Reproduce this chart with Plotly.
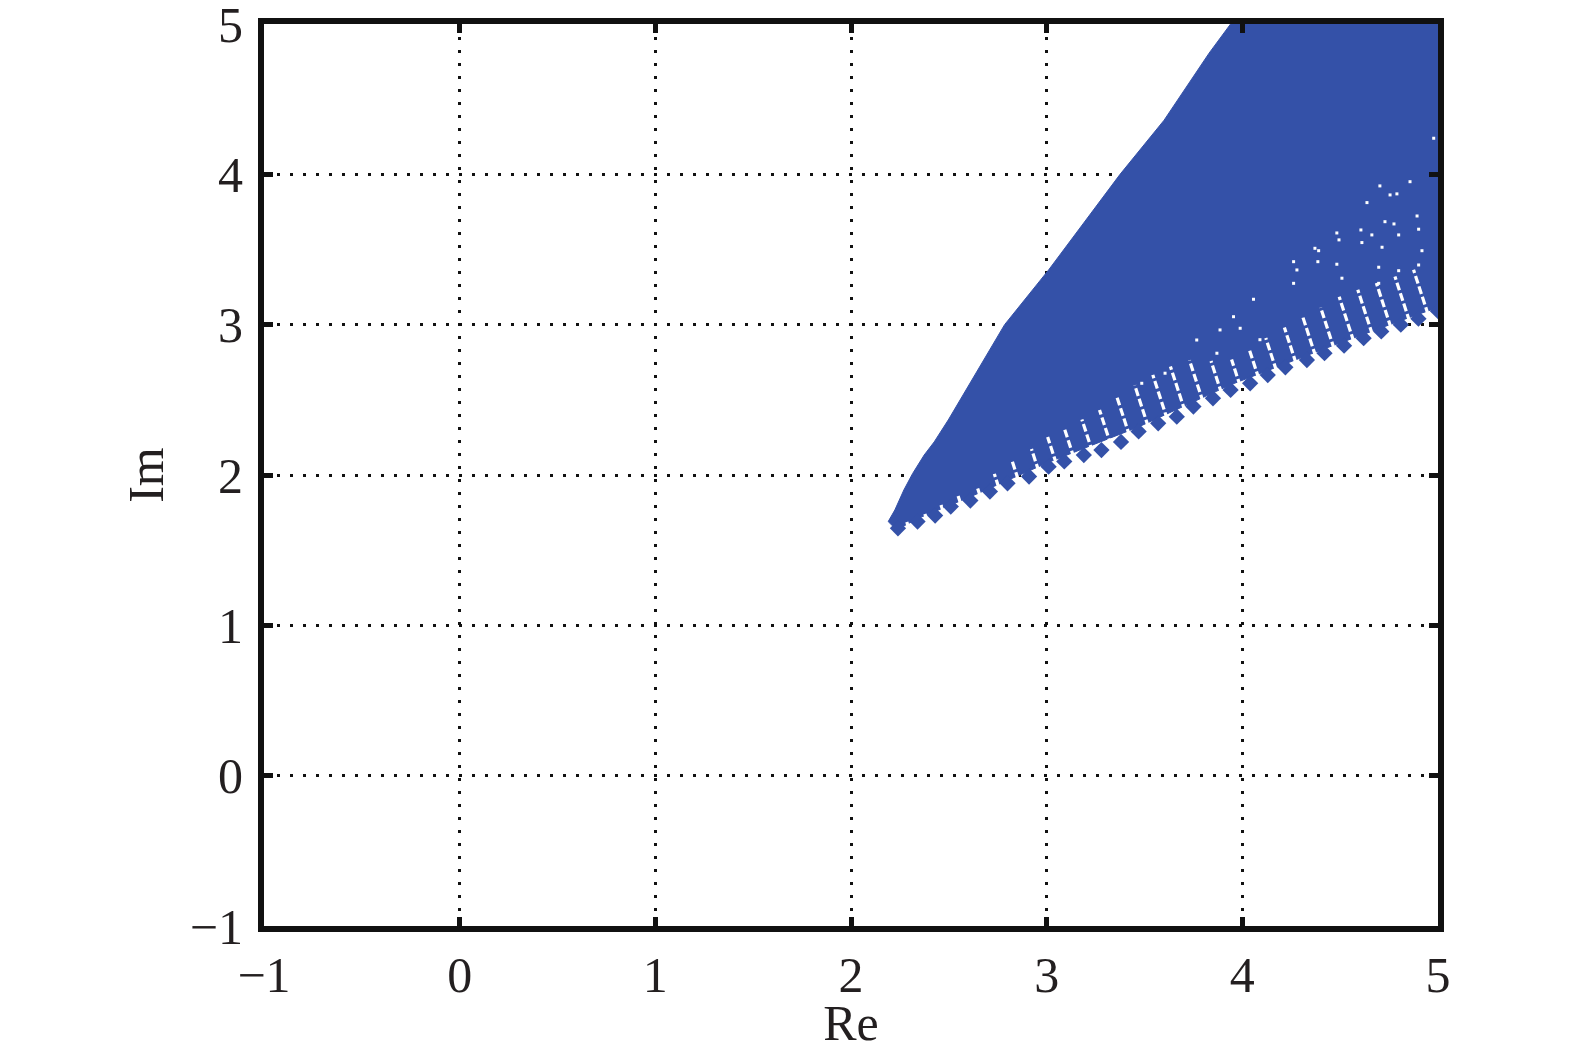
import plotly.graph_objects as go

# ---- data ----
# upper boundary of the blue region (Re, Im)
upper_re = [2.19, 2.224, 2.27, 2.315, 2.374, 2.425, 2.497, 2.785, 3.01, 3.375, 3.60, 3.83, 3.94, 3.99]
upper_im = [1.69, 1.767, 1.90, 2.01, 2.133, 2.22, 2.366, 3.00, 3.364, 4.00, 4.36, 4.806, 5.00, 5.10]
# lower (solid) boundary of the blue region, right to left
lower_re = [5.20, 4.90, 4.42, 3.94, 3.47, 3.01, 2.61, 2.34, 2.233]
lower_im = [3.20, 3.07, 2.84, 2.60, 2.32, 2.085, 1.855, 1.71, 1.635]
# far corner outside the view
corner_re = [5.20]
corner_im = [5.10]

# diamond-shaped points along the lower edge
dia_re = [2.24, 2.34, 2.43, 2.51, 2.61, 2.71, 2.80, 2.91, 3.01, 3.09, 3.19, 3.28,
          3.38, 3.47, 3.57, 3.665, 3.75, 3.85, 3.94, 4.04, 4.13, 4.22, 4.33, 4.42,
          4.52, 4.62, 4.71, 4.81, 4.90, 5.00]
dia_im = [1.645, 1.69, 1.73, 1.79, 1.83, 1.89, 1.945, 1.99, 2.055, 2.09, 2.133, 2.166,
          2.22, 2.29, 2.344, 2.388, 2.455, 2.51, 2.566, 2.61, 2.665, 2.716, 2.765, 2.81,
          2.86, 2.91, 2.955, 3.00, 3.04, 3.09]
# length (in Im units) of the white gap streaks between neighbouring diamonds
gap_len = [0.02, 0.03, 0.04, 0.05, 0.07, 0.09, 0.12, 0.15, 0.18, 0.20, 0.22, 0.24,
           0.26, 0.28, 0.30, 0.30, 0.28, 0.22, 0.18, 0.20, 0.22, 0.24, 0.26, 0.28,
           0.30, 0.30, 0.30, 0.30, 0.30]
# isolated white specks inside the region
speck_re = [4.978, 4.857, 4.703, 4.755, 4.790, 4.637, 4.893, 4.729, 4.775, 4.901,
            4.606, 4.662, 4.483, 4.494, 4.611, 4.799, 4.918, 4.714, 4.371, 4.390,
            4.262, 4.386, 4.483, 4.697, 4.901, 4.279, 4.799, 4.262, 4.509, 4.697,
            4.057, 3.955, 3.886, 3.989, 3.767, 3.870, 4.090, 3.605, 3.486]
speck_im = [4.240, 3.951, 3.923, 3.863, 3.870, 3.812, 3.723, 3.685, 3.670, 3.635,
            3.630, 3.597, 3.610, 3.564, 3.546, 3.597, 3.492, 3.515, 3.508, 3.492,
            3.419, 3.419, 3.402, 3.382, 3.397, 3.364, 3.359, 3.275, 3.309, 3.275,
            3.169, 3.053, 2.965, 2.976, 2.898, 2.810, 2.900, 2.677, 2.610]

tick_vals = [-1, 0, 1, 2, 3, 4, 5]

BLUE = "#3451A8"
INK = "#111111"
TXT = "#231F20"
FONT = "Liberation Serif"

fig = go.Figure()

# filled region
poly_x = upper_re + corner_re + lower_re + [upper_re[0]]
poly_y = upper_im + corner_im + lower_im + [upper_im[0]]
fig.add_trace(go.Scatter(x=poly_x, y=poly_y, mode="lines", fill="toself",
                         fillcolor=BLUE, line=dict(color=BLUE, width=1),
                         hoverinfo="skip", showlegend=False))

# white streaks (gaps) rising from between diamonds
sx, sy = [], []
for i, L in enumerate(gap_len):
    x0 = (dia_re[i] + dia_re[i + 1]) / 2
    y0 = (dia_im[i] + dia_im[i + 1]) / 2
    sx += [x0, x0 - 0.25 * L, None]
    sy += [y0, y0 + L, None]
fig.add_trace(go.Scatter(x=sx, y=sy, mode="lines",
                         line=dict(color="white", width=3.2, dash="8px,3px"),
                         hoverinfo="skip", showlegend=False))

# white specks
fig.add_trace(go.Scatter(x=speck_re, y=speck_im, mode="markers",
                         marker=dict(symbol="square", size=3, color="white",
                                     line=dict(width=0)),
                         hoverinfo="skip", showlegend=False))

# diamonds
fig.add_trace(go.Scatter(x=dia_re, y=dia_im, mode="markers",
                         marker=dict(symbol="diamond", size=12.5, color=BLUE,
                                     line=dict(width=0)),
                         hoverinfo="skip", showlegend=False))

axis_common = dict(
    range=[-1, 5], tickvals=tick_vals, ticks="inside", ticklen=9, tickwidth=5,
    tickcolor=INK, showline=True, linewidth=6, linecolor=INK,
    mirror="allticks", showgrid=True, gridcolor=INK, gridwidth=2.5,
    griddash="3px,10px", zeroline=False, automargin=False,
    ticklabeloverflow="allow",
    tickfont=dict(family=FONT, size=50, color=TXT),
)

fig.update_xaxes(**axis_common,
                 title=dict(text="Re", font=dict(family=FONT, size=50, color=TXT),
                            standoff=4))
fig.update_yaxes(**axis_common, ticklabelstandoff=5,
                 title=dict(text="Im", font=dict(family=FONT, size=50, color=TXT),
                            standoff=12))

# the page body adds an 8px margin, so the figure is sized to fit the window
fig.update_layout(
    width=1567, height=1043,
    margin=dict(l=256, r=137, t=16, b=125),
    plot_bgcolor="white", paper_bgcolor="white",
)

fig.write_html("out.html")
